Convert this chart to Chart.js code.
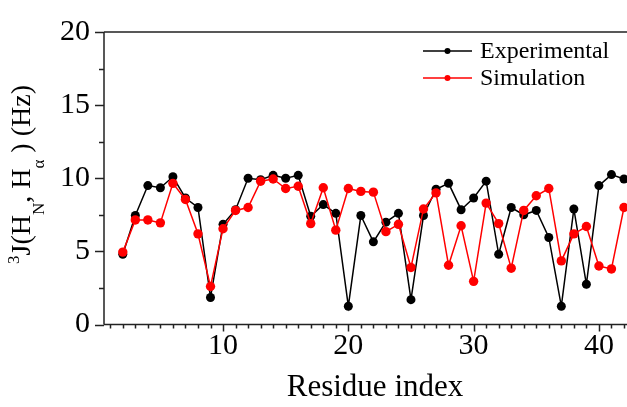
<!DOCTYPE html>
<html>
<head>
<meta charset="utf-8">
<script src="https://cdn.jsdelivr.net/npm/chart.js@4.4.0/dist/chart.umd.min.js"></script>
<style>
  html, body { margin: 0; padding: 0; background: #fff; overflow: hidden; }
  #wrap { width: 627px; height: 407px; overflow: hidden; }
</style>
</head>
<body>
<div id="wrap"><canvas id="myChart" width="660" height="407"></canvas></div>
<script>
// residue numbers and the two J-coupling series (Hz)
var residues = [2, 3, 4, 5, 6, 7, 8, 9, 10, 11, 12, 13, 14, 15, 16, 17, 18, 19, 20, 21,
                22, 23, 24, 25, 26, 27, 28, 29, 30, 31, 32, 33, 34, 35, 36, 37, 38, 39, 40, 41, 42];
var experimental = [4.8, 7.45, 9.5, 9.35, 10.1, 8.65, 8.0, 1.85, 6.85, 7.85, 10.0, 9.9, 10.2, 10.0, 10.2, 7.4,
                    8.2, 7.6, 1.25, 7.45, 5.65, 7.0, 7.6, 1.7, 7.45, 9.25, 9.65, 7.85, 8.65, 9.8, 4.8, 8.0,
                    7.5, 7.8, 5.95, 1.25, 7.9, 2.75, 9.5, 10.25, 9.95];
var simulation = [4.95, 7.15, 7.15, 6.95, 9.65, 8.55, 6.2, 2.6, 6.55, 7.8, 8.0, 9.8, 9.95, 9.3, 9.45, 6.9,
                  9.35, 6.45, 9.3, 9.1, 9.05, 6.35, 6.85, 3.9, 7.9, 9.0, 4.05, 6.75, 2.95, 8.3, 6.9, 3.85,
                  7.8, 8.8, 9.3, 4.35, 6.2, 6.7, 4.0, 3.8, 8.0];
var xTicks = [10, 20, 30, 40];
var yTicks = [0, 5, 10, 15, 20];

var serif = '"Liberation Serif", "Times New Roman", serif';

function toPoints(vals) {
  return residues.map(function (r, i) { return { x: r, y: vals[i] }; });
}

// axes frame, minor ticks, titles and legend
var decorPlugin = {
  id: 'decor',
  afterDraw: function (chart) {
    var ctx = chart.ctx;
    var a = chart.chartArea;
    var xs = chart.scales.x, ys = chart.scales.y;
    ctx.save();
    ctx.strokeStyle = '#222';
    ctx.lineWidth = 1.5;
    ctx.beginPath();
    ctx.moveTo(a.left, a.top); ctx.lineTo(a.right, a.top);
    ctx.moveTo(a.left, a.top); ctx.lineTo(a.left, a.bottom);
    ctx.moveTo(a.left, a.bottom); ctx.lineTo(a.right, a.bottom);
    // x ticks
    for (var v = 1; v <= 44; v++) {
      var px = Math.round(xs.getPixelForValue(v)) + 0.5;
      var len = (v % 10 === 0) ? 7 : 4;
      ctx.moveTo(px, a.bottom); ctx.lineTo(px, a.bottom + len);
    }
    // y ticks
    for (var w = 0; w <= 20; w += 2.5) {
      var py = Math.round(ys.getPixelForValue(w)) + 0.5;
      var l2 = (w % 5 === 0) ? 9 : 5;
      ctx.moveTo(a.left, py); ctx.lineTo(a.left - l2, py);
    }
    ctx.stroke();

    // x title
    ctx.fillStyle = '#000';
    ctx.font = '31px ' + serif;
    ctx.textAlign = 'center';
    ctx.textBaseline = 'alphabetic';
    ctx.fillText('Residue index', 375, 396);

    // y title with super/subscripts
    ctx.save();
    ctx.translate(30, 264);
    ctx.rotate(-Math.PI / 2);
    ctx.textAlign = 'left';
    var big = '28px ' + serif, small = '17px ' + serif;
    var parts = [
      ['3', small, -11], ['J(H', big, 0], ['N', small, 14], [', H', big, 0],
      ['\u03b1', small, 14], [' ) (Hz)', big, 0]
    ];
    var u = 0;
    parts.forEach(function (p) {
      ctx.font = p[1];
      ctx.fillText(p[0], u, p[2]);
      u += ctx.measureText(p[0]).width;
    });
    ctx.restore();

    // legend
    var rows = [['Experimental', '#000', 51], ['Simulation', '#f00', 78]];
    ctx.font = '24px ' + serif;
    ctx.textAlign = 'left';
    ctx.textBaseline = 'middle';
    rows.forEach(function (r) {
      ctx.strokeStyle = r[1];
      ctx.lineWidth = 1.3;
      ctx.beginPath();
      ctx.moveTo(423, r[2]); ctx.lineTo(472, r[2]);
      ctx.stroke();
      ctx.fillStyle = r[1];
      ctx.beginPath();
      ctx.arc(447.5, r[2], 3, 0, Math.PI * 2);
      ctx.fill();
      ctx.fillStyle = '#000';
      ctx.fillText(r[0], 480, r[2] + 1);
    });
    ctx.restore();
  }
};

function DrawChart() {
  var ctx = document.getElementById('myChart');
  new Chart(ctx, {
    type: 'line',
    data: {
      datasets: [{
        label: 'Experimental',
        data: toPoints(experimental),
        borderColor: '#000',
        backgroundColor: '#000',
        pointBackgroundColor: '#000',
        borderWidth: 1.5,
        pointRadius: 4.5,
        pointBorderWidth: 0,
        order: 1
      }, {
        label: 'Simulation',
        data: toPoints(simulation),
        borderColor: '#f00',
        backgroundColor: '#f00',
        pointBackgroundColor: '#f00',
        borderWidth: 1.5,
        pointRadius: 4.7,
        pointBorderWidth: 0,
        order: 0
      }]
    },
    options: {
      responsive: false,
      animation: false,
      layout: { padding: { top: 24, right: 1, left: 0, bottom: 0 } },
      plugins: { legend: { display: false }, tooltip: { enabled: false } },
      scales: {
        x: {
          type: 'linear',
          min: 0.5,
          max: 44.5,
          afterFit: function (s) { s.height = 82.5; },
          afterBuildTicks: function (s) { s.ticks = xTicks.map(function (v) { return { value: v }; }); },
          grid: { display: false, drawTicks: false },
          border: { display: false },
          ticks: { color: '#000', font: { family: serif, size: 30 }, padding: 4, maxRotation: 0 }
        },
        y: {
          min: 0,
          max: 20,
          afterFit: function (s) { s.width = 104; },
          afterBuildTicks: function (s) { s.ticks = yTicks.map(function (v) { return { value: v }; }); },
          grid: { display: false, drawTicks: false },
          border: { display: false },
          ticks: { color: '#000', font: { family: serif, size: 30 }, padding: 14 }
        }
      }
    },
    plugins: [decorPlugin]
  });
}

DrawChart();
</script>
</body>
</html>
